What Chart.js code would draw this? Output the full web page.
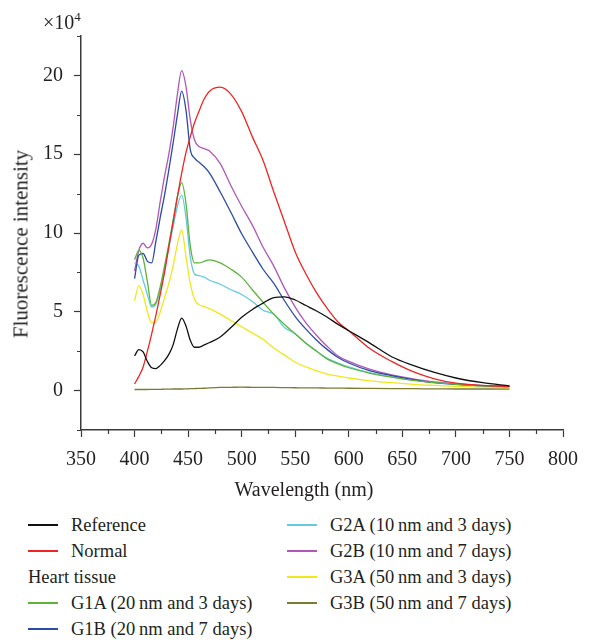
<!DOCTYPE html>
<html>
<head>
<meta charset="utf-8">
<script src="https://cdn.jsdelivr.net/npm/chart.js@4/dist/chart.umd.min.js"></script>
<style>
  html, body { margin: 0; padding: 0; background: #fff; }
  body { width: 589px; height: 640px; position: relative; overflow: hidden;
         font-family: "Liberation Serif", "Times New Roman", serif; color: #231f20; }
  #chart { position: absolute; left: 0; top: 0; }
  .txt { position: absolute; white-space: nowrap; line-height: 24px; }
  #mult { left: 43px; top: 10px; font-size: 20px; }
  #mult sup { font-size: 13px; vertical-align: 8px; line-height: 0; }
  #ytitle { left: 21px; top: 244px; font-size: 21px; line-height: 25px;
            transform: translate(-50%, -50%) rotate(-90deg); }
  #xtitle { left: 154px; width: 300px; text-align: center; top: 477px; font-size: 20px; }
  .legcol { position: absolute; top: 512px; font-size: 18.5px; }
  .row { height: 26px; display: flex; align-items: center; white-space: nowrap; }
  .row .ln { width: 30px; height: 1.5px; margin-right: 13px; flex: none; }
  .row.head { height: 26px; }
</style>
</head>
<body>
<canvas id="chart" width="589" height="500"></canvas>
<div class="txt" id="mult">×10<sup>4</sup></div>
<div class="txt" id="ytitle">Fluorescence intensity</div>
<div class="txt" id="xtitle">Wavelength (nm)</div>
<div class="legcol" id="legLeft" style="left:28px"></div>
<div class="legcol" id="legRight" style="left:287px"></div>
<script>
// wavelength grid (nm) and intensities (x10^4)
const wavelength = [400, 404, 408, 412, 416, 420, 424, 428, 432, 436, 440, 444, 448, 452, 456, 460, 465, 470,
  480, 490, 500, 510, 520, 530, 540, 550, 560, 570, 580, 590, 600, 620, 640, 660, 680, 700, 725, 750];

const reference = [2.2, 2.6, 2.45, 1.85, 1.45, 1.4, 1.6, 1.9, 2.3, 2.9, 3.9, 4.6, 4.1, 3.2, 2.75, 2.75, 2.9, 3.05,
  3.4, 4.0, 4.65, 5.15, 5.55, 5.9, 5.95, 5.75, 5.4, 5.05, 4.65, 4.2, 3.8, 3.0, 2.15, 1.6, 1.15, 0.8, 0.5, 0.3];
const normal = [0.42, 0.9, 1.5, 2.5, 3.6, 4.8, 6.1, 7.5, 9.1, 10.7, 12.3, 13.8, 15.1, 16.1, 17.0, 17.7, 18.5, 19.0,
  19.25, 18.8, 17.7, 16.1, 14.6, 12.6, 10.7, 8.8, 7.4, 6.2, 5.2, 4.35, 3.8, 2.65, 1.85, 1.2, 0.75, 0.47, 0.33, 0.25];
const g1a = [8.3, 8.9, 8.4, 6.9, 5.4, 5.6, 6.6, 7.9, 9.3, 10.8, 12.3, 13.2, 11.9, 9.2, 8.1, 8.1, 8.2, 8.3,
  8.1, 7.7, 7.2, 6.4, 5.6, 4.85, 4.2, 3.6, 3.0, 2.5, 2.0, 1.7, 1.45, 1.1, 0.85, 0.65, 0.5, 0.4, 0.3, 0.25];
const g1b = [7.1, 8.6, 8.7, 8.2, 8.1, 9.5, 11.0, 12.4, 14.0, 15.7, 17.5, 19.0, 17.8, 15.3, 14.75, 14.5, 14.2, 13.8,
  12.6, 11.3, 9.95, 8.8, 7.7, 6.8, 5.7, 4.7, 3.9, 3.2, 2.6, 2.1, 1.75, 1.25, 0.95, 0.7, 0.5, 0.4, 0.31, 0.27];
const g2a = [8.1, 7.9, 7.0, 6.1, 5.3, 5.5, 6.4, 7.7, 9.1, 10.4, 11.7, 12.4, 11.0, 8.5, 7.4, 7.3, 7.2, 7.0,
  6.75, 6.4, 6.1, 5.65, 5.1, 4.85, 4.0, 3.6, 3.0, 2.5, 2.05, 1.75, 1.5, 1.12, 0.87, 0.67, 0.52, 0.42, 0.32, 0.27];
const g2b = [7.6, 8.9, 9.35, 9.05, 9.3, 10.3, 12.0, 13.6, 15.0, 16.7, 18.8, 20.3, 19.3, 17.2, 15.9, 15.5, 15.35, 15.2,
  14.4, 13.0, 11.7, 10.5, 9.1, 7.9, 6.5, 5.3, 4.3, 3.5, 2.8, 2.2, 1.85, 1.35, 1.0, 0.75, 0.55, 0.42, 0.32, 0.27];
const g3a = [5.7, 6.65, 6.1, 5.0, 4.3, 4.35, 5.0, 5.9, 6.8, 7.9, 9.3, 10.2, 8.5, 6.8, 5.8, 5.45, 5.35, 5.2,
  4.85, 4.45, 4.05, 3.65, 3.25, 2.7, 2.25, 1.8, 1.5, 1.25, 1.05, 0.92, 0.8, 0.62, 0.5, 0.4, 0.33, 0.27, 0.22, 0.18];
const g3b = [0.07, 0.07, 0.07, 0.07, 0.08, 0.08, 0.08, 0.09, 0.09, 0.1, 0.1, 0.1, 0.11, 0.12, 0.13, 0.14, 0.15, 0.17,
  0.2, 0.21, 0.22, 0.21, 0.2, 0.2, 0.19, 0.18, 0.17, 0.17, 0.16, 0.16, 0.15, 0.14, 0.13, 0.12, 0.11, 0.1, 0.1, 0.1];

const seriesNames = ["Reference", "Normal", "G1A (20\u2009nm and 3 days)", "G1B (20\u2009nm and 7 days)",
  "G2A (10\u2009nm and 3 days)", "G2B (10\u2009nm and 7 days)", "G3A (50\u2009nm and 3 days)", "G3B (50\u2009nm and 7 days)"];
const seriesValues = [reference, normal, g1a, g1b, g2a, g2b, g3a, g3b];
const seriesColors = ["#111111", "#f02424", "#5cb43a", "#2b4ba5", "#62cbdd", "#b256b8", "#f0e81c", "#7d7b33"];

const xTicks = { min: 350, max: 800, step: 25, labelEvery: 50 };
const yTicks = { min: -2.5, max: 22.5, step: 2.5, labelEvery: 5 };

const axisColor = "#3a3a3a";
const textColor = "#231f20";
const fontFamily = "'Liberation Serif', 'Times New Roman', serif";

const datasets = seriesNames.map((name, i) => ({
  label: name,
  data: wavelength.map((w, j) => ({ x: w, y: seriesValues[i][j] })),
  borderColor: seriesColors[i],
  backgroundColor: seriesColors[i],
  borderWidth: 1.3,
  pointRadius: 0,
  fill: false,
  cubicInterpolationMode: "monotone"
}));

// short minor ticks drawn from the scales
const minorTicks = {
  id: "minorTicks",
  afterDraw(chart) {
    const { ctx, scales: { x, y } } = chart;
    ctx.save();
    ctx.strokeStyle = axisColor;
    ctx.lineWidth = 1.2;
    ctx.beginPath();
    x.ticks.forEach(t => {
      if (t.value % xTicks.labelEvery !== 0) {
        const px = Math.round(x.getPixelForValue(t.value)) + 0.5;
        ctx.moveTo(px, x.top);
        ctx.lineTo(px, x.top + 4);
      }
    });
    y.ticks.forEach(t => {
      if (t.value % yTicks.labelEvery !== 0) {
        const py = Math.round(y.getPixelForValue(t.value)) + 0.5;
        ctx.moveTo(y.right, py);
        ctx.lineTo(y.right - 4, py);
      }
    });
    ctx.stroke();
    ctx.restore();
  }
};

const ctx = document.getElementById("chart").getContext("2d");
const chart = new Chart(ctx, {
  type: "line",
  data: { datasets: datasets },
  plugins: [minorTicks],
  options: {
    responsive: false,
    animation: false,
    layout: { padding: { left: 0, top: 36, right: 16, bottom: 0 } },
    plugins: { legend: { display: false }, tooltip: { enabled: false } },
    scales: {
      x: {
        type: "linear",
        min: xTicks.min,
        max: xTicks.max,
        afterFit: (scale) => { scale.height = 70; },
        border: { display: true, color: axisColor, width: 1.5 },
        grid: {
          drawOnChartArea: false,
          tickLength: 7,
          tickWidth: 1.2,
          tickColor: (c) => (c.tick && c.tick.value % xTicks.labelEvery === 0 ? axisColor : "rgba(0,0,0,0)")
        },
        ticks: {
          stepSize: xTicks.step,
          autoSkip: false,
          maxRotation: 0,
          padding: 11,
          color: textColor,
          font: { family: fontFamily, size: 20 },
          callback: (v) => (v % xTicks.labelEvery === 0 ? v : "")
        }
      },
      y: {
        type: "linear",
        min: yTicks.min,
        max: yTicks.max,
        afterFit: (scale) => { scale.width = 81; },
        border: { display: true, color: axisColor, width: 1.5 },
        grid: {
          drawOnChartArea: false,
          tickLength: 7,
          tickWidth: 1.2,
          tickColor: (c) => (c.tick && c.tick.value % yTicks.labelEvery === 0 ? axisColor : "rgba(0,0,0,0)")
        },
        ticks: {
          stepSize: yTicks.step,
          autoSkip: false,
          padding: 11,
          color: textColor,
          font: { family: fontFamily, size: 20 },
          callback: (v) => (v % yTicks.labelEvery === 0 ? v : "")
        }
      }
    }
  }
});

// html legend in two columns, built from the datasets
function legendRow(i) {
  const row = document.createElement("div");
  row.className = "row";
  const ln = document.createElement("span");
  ln.className = "ln";
  ln.style.background = seriesColors[i];
  const tx = document.createElement("span");
  tx.textContent = seriesNames[i];
  row.appendChild(ln);
  row.appendChild(tx);
  return row;
}
const left = document.getElementById("legLeft");
const right = document.getElementById("legRight");
left.appendChild(legendRow(0));
left.appendChild(legendRow(1));
const head = document.createElement("div");
head.className = "row head";
head.textContent = "Heart tissue";
left.appendChild(head);
left.appendChild(legendRow(2));
left.appendChild(legendRow(3));
[4, 5, 6, 7].forEach(i => right.appendChild(legendRow(i)));
</script>
</body>
</html>
